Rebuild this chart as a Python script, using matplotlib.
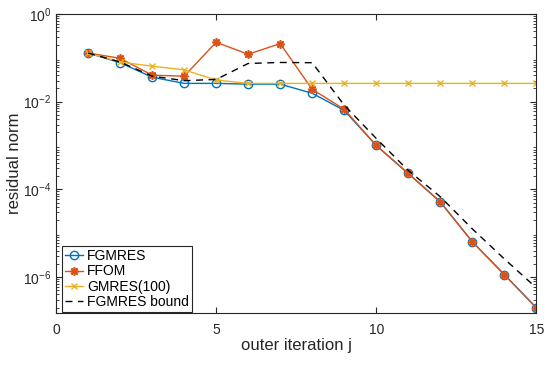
import numpy as np
import matplotlib.pyplot as plt
from matplotlib.ticker import LogLocator, NullFormatter

plt.rcParams['font.family'] = ['Liberation Sans', 'DejaVu Sans']

# outer iteration index
iters = list(range(1, 16))

# residual norms
fgmres = [0.128, 0.077, 0.036, 0.026, 0.026, 0.025, 0.025, 0.0155, 0.0063,
          1.0e-3, 2.3e-4, 5.2e-5, 6.4e-6, 1.14e-6, 2.0e-7]
ffom = [0.128, 0.097, 0.040, 0.038, 0.225, 0.12, 0.21, 0.019, 0.0067,
        1.0e-3, 2.3e-4, 5.2e-5, 6.4e-6, 1.14e-6, 2.0e-7]
gmres100 = [0.128, 0.080, 0.064, 0.053, 0.031, 0.026, 0.026, 0.026, 0.026,
            0.026, 0.026, 0.026, 0.026, 0.026, 0.026]
bound = [0.128, 0.080, 0.038, 0.030, 0.032, 0.074, 0.078, 0.077, 0.0083,
         1.45e-3, 2.7e-4, 6.8e-5, 1.26e-5, 2.6e-6, 5.7e-7]

fig = plt.figure(figsize=(5.5, 3.65), dpi=100)
ax = fig.add_axes([0.102, 0.142, 0.873, 0.82])

ax.semilogy(iters, fgmres, '-o', color='#0072BD', lw=1, ms=6,
            mfc='none', mew=1, label='FGMRES')
# MATLAB-style '*' = 8-spoke asterisk
ax.semilogy(iters, ffom, '-', marker=(8, 2, 0), color='#D95319', lw=1, ms=6,
            mew=1.2, label='FFOM')
ax.semilogy(iters, gmres100, '-x', color='#EDB120', lw=1, ms=5,
            mew=1, label='GMRES(100)')
ax.semilogy(iters, bound, '--', color='black', lw=1, dashes=(5, 4),
            label='FGMRES bound')

ax.set_xlim(0, 15)
ax.set_ylim(1.5e-7, 1)
ax.set_xticks([0, 5, 10, 15])
ax.set_yticks([1e-6, 1e-4, 1e-2, 1])
ax.yaxis.set_minor_locator(LogLocator(base=10, subs=np.arange(2, 10), numticks=20))
ax.yaxis.set_minor_formatter(NullFormatter())

ax.tick_params(which='both', direction='in', top=True, right=True,
               colors='#262626', labelsize=10, labelcolor='#262626')
ax.tick_params(which='major', length=4)
ax.tick_params(which='minor', length=2)
ax.tick_params(axis='x', pad=7)
for s in ax.spines.values():
    s.set_color('#262626')
    s.set_linewidth(0.8)

ax.set_xlabel('outer iteration j', fontsize=12, color='#262626', labelpad=1)
ax.set_ylabel('residual norm', fontsize=12, color='#262626')
ax.yaxis.set_label_coords(-0.071, 0.5)

leg = ax.legend(loc='lower left', bbox_to_anchor=(0.012, 0.004),
                fontsize=10, fancybox=False, edgecolor='#262626',
                framealpha=1, borderpad=0.2, labelspacing=0.1,
                handlelength=1.3, handletextpad=0.3, borderaxespad=0)
leg.get_frame().set_linewidth(0.8)

fig.savefig('out.png', dpi=100)
